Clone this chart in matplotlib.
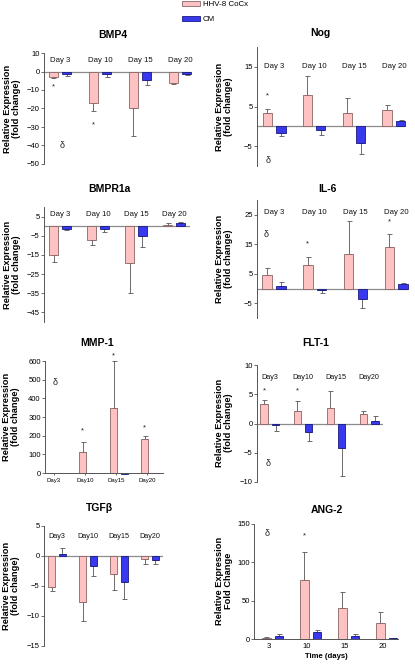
import matplotlib
matplotlib.use('Agg')
import matplotlib.pyplot as plt
from matplotlib.patches import Patch
import numpy as np

plt.rcParams['font.family'] = ['Liberation Sans', 'DejaVu Sans']

# day labels
days = ['Day 3', 'Day 10', 'Day 15', 'Day 20']
days_short = ['Day3', 'Day10', 'Day15', 'Day20']
ang_days = ['3', '10', '15', '20']

# fold change values (HHV-8 CoCx / CM, with one-sided errors)
bmp4_cocx = [-2.8, -16.8, -20.0, -6.0]
bmp4_cocx_err = [0.5, 4.8, 14.6, 1.0]
bmp4_cm = [-1.2, -1.5, -4.6, -1.6]
bmp4_cm_err = [1.3, 1.4, 2.9, 0.3]

nog_cocx = [3.4, 7.8, 3.3, 4.2]
nog_cocx_err = [1.0, 4.8, 3.9, 1.3]
nog_cm = [-1.8, -0.8, -4.3, 1.4]
nog_cm_err = [0.6, 1.4, 2.7, 0.2]

bmpr1a_cocx = [-14.9, -7.0, -19.1, 0.4]
bmpr1a_cocx_err = [3.9, 3.0, 15.8, 1.4]
bmpr1a_cm = [-1.7, -1.6, -5.3, 1.7]
bmpr1a_cm_err = [0.3, 1.7, 5.7, 0.3]

il6_cocx = [4.5, 7.9, 11.7, 14.0]
il6_cocx_err = [2.4, 2.8, 11.2, 4.5]
il6_cm = [0.9, -0.6, -3.4, 1.6]
il6_cm_err = [1.3, 1.0, 3.3, 0.2]

mmp1_cocx = [1, 110, 350, 180]
mmp1_cocx_err = [0, 56, 250, 17]
mmp1_cm = [0, -1, -8, 0]
mmp1_cm_err = [0, 0, 0, 0]

flt1_cocx = [3.4, 2.1, 2.7, 1.65]
flt1_cocx_err = [0.6, 1.7, 2.8, 0.45]
flt1_cm = [-0.3, -1.4, -4.2, 0.45]
flt1_cm_err = [0.9, 1.6, 4.7, 0.85]

tgfb_cocx = [-5.2, -7.6, -3.0, -0.45]
tgfb_cocx_err = [0.7, 3.3, 2.6, 0.9]
tgfb_cm = [0.4, -1.6, -4.4, -0.6]
tgfb_cm_err = [1.0, 1.7, 2.8, 0.7]

ang2_cocx = [1.5, 77, 40, 21]
ang2_cocx_err = [0.8, 36, 21, 13.6]
ang2_cm = [3.5, 8.8, 4.4, 0.8]
ang2_cm_err = [2.5, 2.6, 1.7, 0.3]

# significance marks: (day index, y)
bmp4_stars = [(-0.17, -8.5), (0.83, -29)]
nog_stars = [(-0.17, 7.8)]
il6_stars = [(0.83, 15.2), (2.83, 22.7)]
mmp1_stars = [(0.83, 226), (1.83, 627), (2.83, 244)]
flt1_stars = [(-0.17, 5.6), (0.83, 5.6)]
ang2_stars = [(0.83, 135)]

PINK = '#ffc2c2'
PINK_EDGE = '#8a6464'
BLUE = '#3838ee'
BLUE_EDGE = '#1a1a80'
W, H = 415, 665

fig = plt.figure(figsize=(W / 100, H / 100), dpi=100)


def px_axes(left, top, right, bottom):
    return fig.add_axes([left / W, 1 - bottom / H, (right - left) / W, (bottom - top) / H])


def draw_bars(ax, cocx, cocx_err, cm, cm_err):
    x = np.arange(4)
    for vals, errs, off, fc, ec in [(cocx, cocx_err, -0.17, PINK, PINK_EDGE),
                                    (cm, cm_err, 0.17, BLUE, BLUE_EDGE)]:
        vals = np.array(vals, float)
        errs = np.array(errs, float)
        m = errs > 0
        lo = np.where(vals < 0, errs, 0)
        hi = np.where(vals >= 0, errs, 0)
        ax.errorbar((x + off)[m], vals[m], yerr=[lo[m], hi[m]], fmt='none',
                     ecolor='#555555', elinewidth=0.6, capsize=1.8, capthick=0.6, zorder=1)
        ax.bar(x + off, vals, width=0.23, color=fc, edgecolor=ec, linewidth=0.6,
               zorder=2, clip_on=False)


def style(ax, ylim, yticks, xlim, zero_line=True):
    ax.set_ylim(ylim)
    ax.set_xlim(xlim)
    ax.set_yticks(yticks)
    for s in ['top', 'right']:
        ax.spines[s].set_visible(False)
    ax.spines['left'].set_color('#555555')
    ax.spines['left'].set_linewidth(0.7)
    ax.tick_params(axis='y', length=2, width=0.6, color='#555555', labelsize=5.5, pad=1)
    ax.patch.set_alpha(0)
    if zero_line:
        ax.spines['bottom'].set_visible(False)
        ax.set_xticks([])
        ax.axhline(0, color='#8c8c8c', lw=0.9, zorder=1.5)
    else:
        ax.spines['bottom'].set_color('#555555')
        ax.spines['bottom'].set_linewidth(0.7)


def day_labels(ax, labels, y, size=5.6):
    for i, lab in enumerate(labels):
        ax.text(i, y, lab, ha='center', va='center', fontsize=size, color='#111111')


def marks(ax, stars, delta=None):
    for x, y in stars:
        ax.text(x, y, '*', ha='center', va='center', fontsize=5.5, color='#222222')
    if delta is not None:
        ax.text(delta[0], delta[1], 'δ', ha='center', va='center', fontsize=6.5, color='#222222')


def title(x, y, s):
    fig.text(x / W, 1 - y / H, s, ha='center', va='center', fontsize=7.5, fontweight='bold')


def ylabel(x, y, s):
    fig.text(x / W, 1 - y / H, s, ha='center', va='center', rotation=90, fontsize=6.7,
             fontweight='bold', multialignment='center', linespacing=1.0)


# BMP4
ax = px_axes(44, 53, 191, 164)
draw_bars(ax, bmp4_cocx, bmp4_cocx_err, bmp4_cm, bmp4_cm_err)
style(ax, (-50, 10), [10, 0, -10, -20, -30, -40, -50], (-0.4, 3.275))
day_labels(ax, days, 6)
marks(ax, bmp4_stars, (0.05, -40))
title(113, 35, 'BMP4')
ylabel(12, 109, 'Relative Expression\n(fold change)')

# Nog
ax = px_axes(257, 47, 405, 166)
draw_bars(ax, nog_cocx, nog_cocx_err, nog_cm, nog_cm_err)
style(ax, (-10, 20), [15, 5, -5], (-0.43, 3.28))
day_labels(ax, days, 15)
marks(ax, nog_stars, (-0.15, -8.7))
title(320, 33, 'Nog')
ylabel(224, 107, 'Relative Expression\n(fold change)')

# BMPR1a
ax = px_axes(44, 207, 190, 322)
draw_bars(ax, bmpr1a_cocx, bmpr1a_cocx_err, bmpr1a_cm, bmpr1a_cm_err)
style(ax, (-50, 10), [5, -5, -15, -25, -35, -45], (-0.42, 3.42))
day_labels(ax, days, 6.1)
title(109, 189, 'BMPR1a')
ylabel(12, 265, 'Relative Expression\n(fold change)')

# IL-6
ax = px_axes(257, 200, 408, 318)
draw_bars(ax, il6_cocx, il6_cocx_err, il6_cm, il6_cm_err)
style(ax, (-10, 30), [25, 15, 5, -5], (-0.42, 3.29))
day_labels(ax, days, 25.7)
marks(ax, il6_stars, (-0.2, 18.2))
title(327, 189, 'IL-6')
ylabel(224, 259, 'Relative Expression\n(fold change)')

# MMP-1
ax = px_axes(45, 361, 163, 473)
draw_bars(ax, mmp1_cocx, mmp1_cocx_err, mmp1_cm, mmp1_cm_err)
style(ax, (0, 600), [0, 100, 200, 300, 400, 500, 600], (-0.39, 3.42), zero_line=False)
ax.set_xticks(np.arange(4) - 0.1)
ax.set_xticklabels(days_short)
ax.tick_params(axis='x', length=1.5, width=0.6, color='#555555', labelsize=4.3, pad=2)
marks(ax, mmp1_stars, (-0.05, 484))
title(97, 343, 'MMP-1')
ylabel(11, 417, 'Relative Expression\n(fold change)')

# FLT-1
ax = px_axes(257, 365, 383, 482)
draw_bars(ax, flt1_cocx, flt1_cocx_err, flt1_cm, flt1_cm_err)
style(ax, (-10, 10), [10, 5, 0, -5, -10], (-0.39, 3.42))
day_labels(ax, days_short, 7.8, size=5.2)
marks(ax, flt1_stars, (-0.05, -6.9))
title(316, 343, 'FLT-1')
ylabel(224, 423, 'Relative Expression\n(fold change)')

# TGFβ
ax = px_axes(44, 526, 163, 646)
draw_bars(ax, tgfb_cocx, tgfb_cocx_err, tgfb_cm, tgfb_cm_err)
style(ax, (-15, 5), [5, 0, -5, -10, -15], (-0.42, 3.42))
day_labels(ax, days_short, 3.2, size=5.2)
title(99, 508, 'TGFβ')
ylabel(11, 586, 'Relative Expression\n(fold change)')

# ANG-2
ax = px_axes(254, 524, 398, 639)
draw_bars(ax, ang2_cocx, ang2_cocx_err, ang2_cm, ang2_cm_err)
style(ax, (0, 150), [0, 50, 100, 150], (-0.49, 3.30), zero_line=False)
ax.set_xticks(np.arange(4) - 0.1)
ax.set_xticklabels(ang_days)
ax.tick_params(axis='x', length=0, labelsize=5.5, pad=3)
ax.set_xlabel('Time (days)', fontsize=5.6, fontweight='bold', labelpad=2)
marks(ax, ang2_stars, (-0.15, 137))
title(327, 510, 'ANG-2')
ylabel(224, 581, 'Relative Expression\nFold Change')

# legend
handles = [Patch(facecolor=PINK, edgecolor=PINK_EDGE, linewidth=0.6),
           Patch(facecolor=BLUE, edgecolor=BLUE_EDGE, linewidth=0.6)]
fig.legend(handles, ['HHV-8 CoCx', 'CM'], loc='upper left', bbox_to_anchor=(182 / W, 1 - 0.5 / H),
           frameon=False, fontsize=5.7, handlelength=2.3, handleheight=0.65,
           handletextpad=0.3, labelspacing=1.0, borderpad=0, borderaxespad=0)

fig.savefig('out.png', dpi=100)
